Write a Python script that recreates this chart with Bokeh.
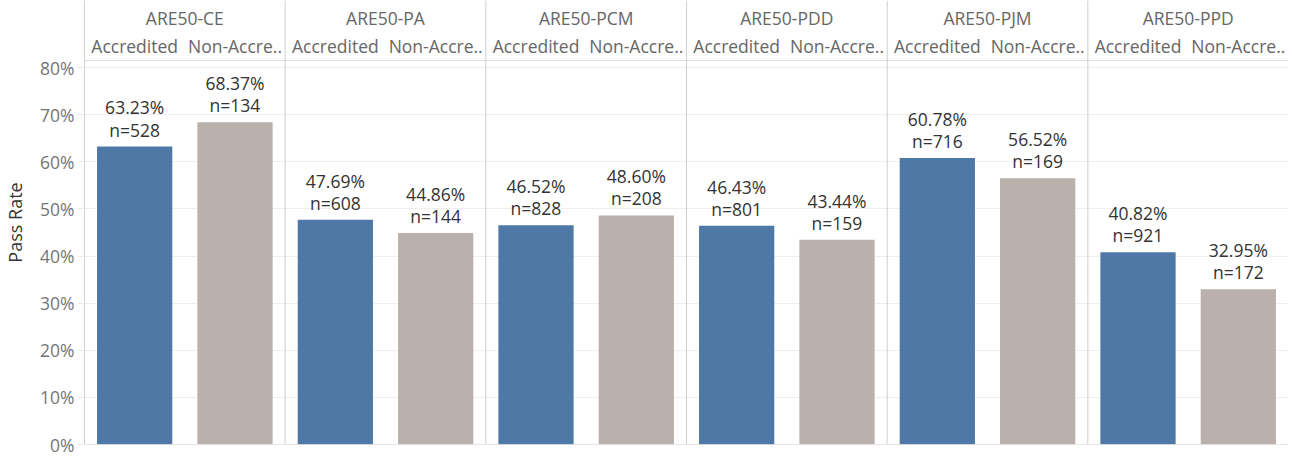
from bokeh.plotting import figure
from bokeh.models import FactorRange, Range1d, FixedTicker, NumeralTickFormatter, Span, ColumnDataSource
from bokeh.embed import file_html
from bokeh.resources import INLINE
from bokeh.core.properties import value

# ---- data ----
exams = ["ARE50-CE", "ARE50-PA", "ARE50-PCM", "ARE50-PDD", "ARE50-PJM", "ARE50-PPD"]
programs = ["Accredited", "Non-Accre.."]
accredited_rate = [0.6323, 0.4769, 0.4652, 0.4643, 0.6078, 0.4082]
accredited_n = [528, 608, 828, 801, 716, 921]
non_accredited_rate = [0.6837, 0.4486, 0.4860, 0.4344, 0.5652, 0.3295]
non_accredited_n = [134, 144, 208, 159, 169, 172]
y_ticks = [0.0, 0.1, 0.2, 0.3, 0.4, 0.5, 0.6, 0.7, 0.8]
program_colors = ["#4E79A7", "#BAB0AC"]

FONT_NAME = "Open Sans"
FONT = value(FONT_NAME)

factors, rates, counts, fills, labels = [], [], [], [], []
for i, ex in enumerate(exams):
    pairs = [(accredited_rate[i], accredited_n[i]), (non_accredited_rate[i], non_accredited_n[i])]
    for j, (r, n) in enumerate(pairs):
        factors.append((ex, programs[j]))
        rates.append(r)
        counts.append(n)
        fills.append(program_colors[j])
        labels.append(f"{r*100:.2f}%\nn={n}")

src = ColumnDataSource(dict(x=factors, rate=rates, n=counts, fill=fills, label=labels))

Y_TOP = 0.9422
HEADER_LINE = 0.8149
GROUP_Y = 0.9061
SUB_Y = 0.8446

p = figure(
    width=1288, height=456,
    x_range=FactorRange(*factors, factor_padding=0, group_padding=0, subgroup_padding=0, range_padding=0),
    y_range=Range1d(0, Y_TOP),
    x_axis_location=None,
    output_backend="svg", toolbar_location=None,
    min_border_left=83, min_border_right=0, min_border_top=0, min_border_bottom=12,
)
p.outline_line_color = None
p.background_fill_color = "white"
p.border_fill_color = "white"

# y axis
ya = p.yaxis[0]
ya.ticker = FixedTicker(ticks=y_ticks)
ya.formatter = NumeralTickFormatter(format="0%")
ya.axis_label = "Pass Rate"
ya.axis_label_text_font = FONT_NAME
ya.axis_label_text_font_style = "normal"
ya.axis_label_text_font_size = "18px"
ya.axis_label_text_color = "#333333"
ya.axis_label_standoff = 10
ya.major_label_text_font = FONT_NAME
ya.major_label_text_font_size = "17.5px"
ya.major_label_text_color = "#757575"
ya.major_label_standoff = 3
ya.major_tick_out = 7
ya.major_tick_in = 0
ya.major_tick_line_color = "#ebebeb"
ya.minor_tick_line_color = None
ya.axis_line_color = "#cfcfcf"

p.xgrid.visible = False
p.ygrid.grid_line_color = "#efefef"

# bars
p.vbar(x="x", top="rate", bottom=0, width=0.75, fill_color="fill", line_color=None, source=src)

# bar labels
p.text(x="x", y="rate", text="label", source=src, text_align="center", text_baseline="bottom",
       y_offset=-5, text_font=FONT, text_font_size="17.5px", text_color="#333333", text_line_height=0.92)

# baseline
p.add_layout(Span(location=0, dimension="width", line_color="#cfcfcf", line_width=1))
# header divider
p.add_layout(Span(location=HEADER_LINE, dimension="width", line_color="#dddddd", line_width=1))
# group separators
for i in range(1, len(exams)):
    p.add_layout(Span(location=i * len(programs), dimension="height", line_color="#cfcfcf", line_width=1))

# headers
hdr = ColumnDataSource(dict(x=exams, y=[GROUP_Y] * len(exams), t=exams))
p.text(x="x", y="y", text="t", source=hdr, text_align="center", text_baseline="middle",
       text_font=FONT, text_font_size="17.5px", text_color="#666666")
sub = ColumnDataSource(dict(x=factors, y=[SUB_Y] * len(factors), t=[f[1] for f in factors]))
p.text(x="x", y="y", text="t", source=sub, text_align="center", text_baseline="middle",
       text_font=FONT, text_font_size="17.5px", text_color="#666666")

open("out.html", "w").write(file_html(p, INLINE))
